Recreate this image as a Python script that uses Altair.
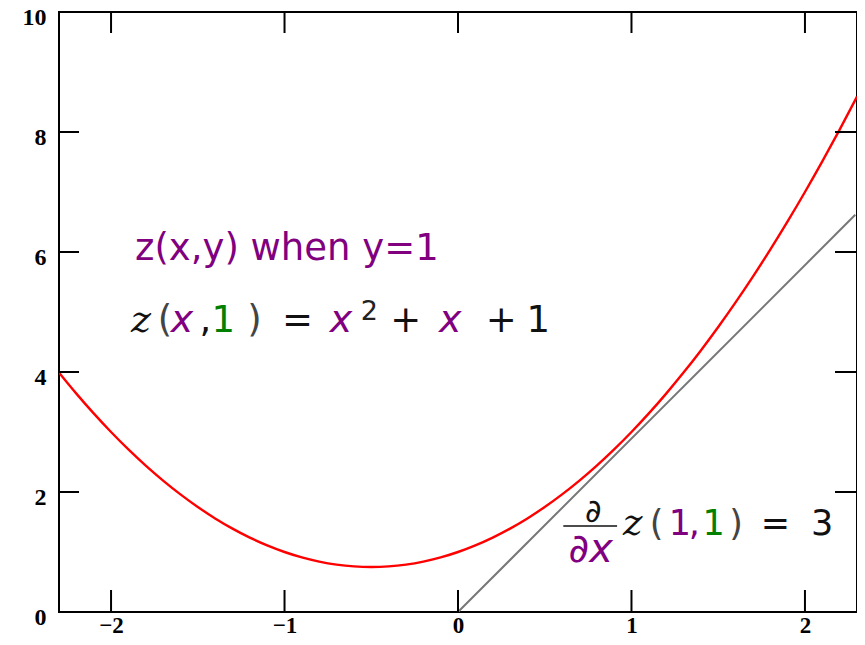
import altair as alt
import pandas as pd

# ---- data ----
curve_x = [-2.3, -2.2, -2.1, -2.0, -1.9, -1.8, -1.7, -1.6, -1.5, -1.4, -1.3, -1.2, -1.1, -1.0,
           -0.9, -0.8, -0.7, -0.6, -0.5, -0.4, -0.3, -0.2, -0.1, 0.0, 0.1, 0.2, 0.3, 0.4, 0.5,
           0.6, 0.7, 0.8, 0.9, 1.0, 1.1, 1.2, 1.3, 1.4, 1.5, 1.6, 1.7, 1.8, 1.9, 2.0, 2.1, 2.2, 2.3]
curve_z = [3.99, 3.64, 3.31, 3.00, 2.71, 2.44, 2.19, 1.96, 1.75, 1.56, 1.39, 1.24, 1.11, 1.00,
           0.91, 0.84, 0.79, 0.76, 0.75, 0.76, 0.79, 0.84, 0.91, 1.00, 1.11, 1.24, 1.39, 1.56, 1.75,
           1.96, 2.19, 2.44, 2.71, 3.00, 3.31, 3.64, 3.99, 4.36, 4.75, 5.16, 5.59, 6.04, 6.51, 7.00,
           7.51, 8.04, 8.59]
tangent_x = [0.0, 2.29]
tangent_z = [0.0, 6.62]
x_ticks = [-2, -1, 0, 1, 2]
y_ticks = [0, 2, 4, 6, 8, 10]

PURPLE = "#800080"
GREEN = "#008000"
BLACK = "#111111"
PAREN = "#444444"

# annotation pieces: text, x, y (data units), colour
title_txt = ["z(x,y) when y=1"]
title_x = [-1.862]
title_y = [5.867]

eq_y = 4.667
eq_z_x = [-1.885]
der_z_x = [0.951]
der_y = 1.283

eq_var_txt = ["x", "x", "x"]
eq_var_x = [-1.656, -0.739, -0.11]

eq_sym_txt = ["(", ",", "1", ")", "=", "+", "+", "1"]
eq_sym_x = [-1.731, -1.49, -1.421, -1.215, -1.014, -0.39, 0.16, 0.395]
eq_sym_c = [PAREN, BLACK, GREEN, PAREN, BLACK, BLACK, BLACK, BLACK]

sup_txt = ["2"]
sup_x = [-0.56]
sup_y = [4.867]

der_sym_txt = ["(", "1", ",", "1", ")", "=", "3"]
der_sym_x = [1.106, 1.215, 1.33, 1.41, 1.564, 1.745, 2.035]
der_sym_c = [PAREN, PURPLE, PURPLE, GREEN, PAREN, BLACK, BLACK]

frac_top_txt = ["∂"]
frac_top_x = [0.78]
frac_top_y = [1.5]
frac_bot_txt = ["∂x"]
frac_bot_x = [0.765]
frac_bot_y = [0.833]
frac_bar_x = [0.607]
frac_bar_x2 = [0.917]
frac_bar_y = [1.433]

W, H = 798, 600
xs = alt.Scale(domain=[-2.3, 2.3], nice=False, zero=False)
ys = alt.Scale(domain=[0, 10], nice=False, zero=False)
x_axis = alt.Axis(values=x_ticks, labelPadding=2, labelFlush=False, labelFontSize=23)
y_axis = alt.Axis(values=y_ticks, labelPadding=13, labelFlush=False, labelOffset=5, labelFontSize=24)


def X(field):
    return alt.X(field, scale=xs, axis=x_axis, title=None)


def Y(field):
    return alt.Y(field, scale=ys, axis=y_axis, title=None)


curve = alt.Chart(pd.DataFrame({"x": curve_x, "z": curve_z})).mark_line(
    color="#ff0000", strokeWidth=2.4, interpolate="monotone", clip=True
).encode(x=X("x:Q"), y=Y("z:Q"))

tangent = alt.Chart(pd.DataFrame({"x": tangent_x, "z": tangent_z})).mark_line(
    color="#777777", strokeWidth=2, clip=True
).encode(x=X("x:Q"), y=Y("z:Q"))

xt = pd.DataFrame({"v": x_ticks})
yt = pd.DataFrame({"v": y_ticks})
tick_bottom = alt.Chart(xt).mark_rule(color="black", strokeWidth=2).encode(
    x=X("v:Q"), y=alt.value(H), y2=alt.value(H - 22))
tick_top = alt.Chart(xt).mark_rule(color="black", strokeWidth=2).encode(
    x=X("v:Q"), y=alt.value(0), y2=alt.value(21))
tick_left = alt.Chart(yt).mark_rule(color="black", strokeWidth=2).encode(
    y=Y("v:Q"), x=alt.value(0), x2=alt.value(20))
tick_right = alt.Chart(yt).mark_rule(color="black", strokeWidth=2).encode(
    y=Y("v:Q"), x=alt.value(W), x2=alt.value(W - 22))


def text_layer(txt, x, y, c, font, size, style="normal", align="left"):
    df = pd.DataFrame({"t": txt, "x": x, "y": y, "c": c})
    return alt.Chart(df).mark_text(
        font=font, fontSize=size, fontStyle=style, align=align, baseline="alphabetic"
    ).encode(
        x=X("x:Q"),
        y=Y("y:Q"),
        text="t:N",
        color=alt.Color("c:N", scale=None),
    )


frac_bar = alt.Chart(pd.DataFrame({"x": frac_bar_x, "x2": frac_bar_x2, "y": frac_bar_y})).mark_rule(
    color=BLACK, strokeWidth=1.5
).encode(x=X("x:Q"), x2="x2:Q", y=Y("y:Q"))

layers = [
    curve, tangent, tick_bottom, tick_top, tick_left, tick_right,
    text_layer(title_txt, title_x, title_y, [PURPLE], "DejaVu Sans", 37),
    text_layer(["z"], eq_z_x, [eq_y], [BLACK], "DejaVu Serif", 38, "italic"),
    text_layer(["z"], der_z_x, [der_y], [BLACK], "DejaVu Serif", 37, "italic"),
    text_layer(eq_var_txt, eq_var_x, [eq_y] * 3, [PURPLE] * 3, "DejaVu Sans", 38, "italic"),
    text_layer(eq_sym_txt, eq_sym_x, [eq_y] * len(eq_sym_txt), eq_sym_c, "DejaVu Sans", 37),
    text_layer(sup_txt, sup_x, sup_y, ["#222222"], "DejaVu Sans", 27),
    text_layer(der_sym_txt, der_sym_x, [der_y] * len(der_sym_txt), der_sym_c, "DejaVu Sans", 35),
    text_layer(frac_top_txt, frac_top_x, frac_top_y, [BLACK], "DejaVu Sans", 32, "italic", "center"),
    text_layer(frac_bot_txt, frac_bot_x, frac_bot_y, [PURPLE], "DejaVu Sans", 40, "italic", "center"),
    frac_bar,
]

chart = alt.layer(*layers).properties(
    width=W, height=H,
    autosize=alt.AutoSizeParams(type="none"),
    padding={"left": 51, "top": 4, "right": 0, "bottom": 25},
).configure_view(
    stroke="black", strokeWidth=2
).configure_axis(
    grid=False, ticks=False, domain=False,
    labelFont="Liberation Serif", labelFontWeight="bold", labelColor="black",
)

chart.save("out.html", embed_options={"renderer": "svg", "actions": False})
